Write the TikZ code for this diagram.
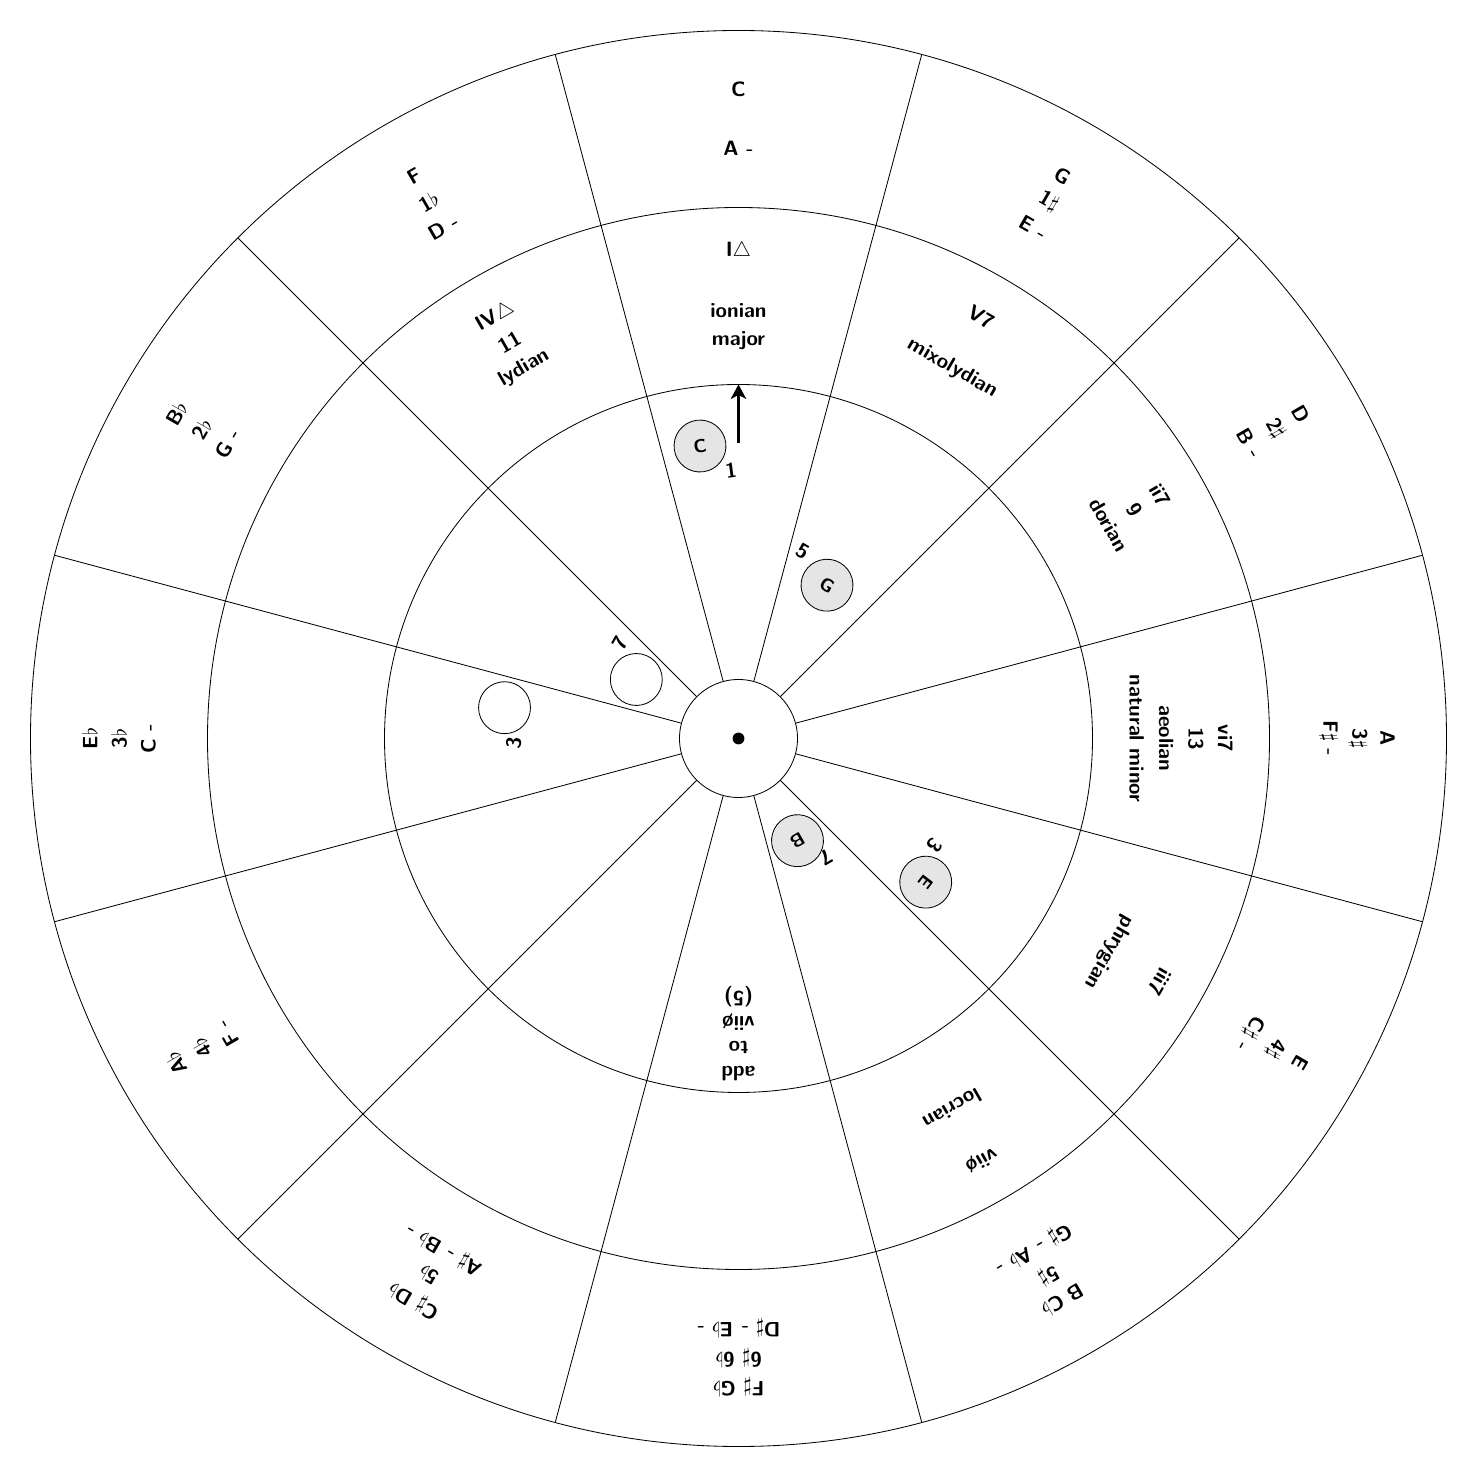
\documentclass[tikz,border=0pt]{standalone}
\usetikzlibrary{arrows.meta}
\begin{document}
\begin{tikzpicture}[
  ringc/.style={circle, draw, thin, inner sep=0pt, outer sep=0pt},
  lbl/.style={font=\sffamily\bfseries, inner sep=1pt},
  tonenote/.style={circle, draw, fill=black!10, minimum size=0.88cm, inner sep=0pt, font=\sffamily\bfseries\small},
  opennote/.style={circle, draw, minimum size=0.88cm, inner sep=0pt},
  ivl/.style={font=\sffamily\bfseries, inner sep=0pt},
  bigarrow/.style={-{Stealth[length=7pt,width=7.5pt,inset=2pt]}, line width=1.8pt}
]
\useasboundingbox (-12.517,-12.517) rectangle (12.517,12.517);
% rings
\node[ringc, minimum size=24cm] (outer) at (0,0) {};
\node[ringc, minimum size=18cm] (middle) at (0,0) {};
\node[ringc, minimum size=12cm] (inner) at (0,0) {};
\node[ringc, minimum size=2cm] (hub) at (0,0) {};
\node[circle, fill=black, minimum size=0.2cm, inner sep=0pt] (dot) at (0,0) {};
% radial lines
\foreach \a in {15,45,...,345}
  \draw[thin] (hub.\a) -- (outer.\a);
% ring texts: angle / radius / text
\foreach \a/\r/\t [count=\i] in {
  90/11/{C}, 90/10/{A -},
  60/11/{G}, 60/10.5/{1$\sharp$}, 60/10/{E -},
  30/11/{D}, 30/10.5/{2$\sharp$}, 30/10/{B -},
  0/11/{A}, 0/10.5/{3$\sharp$}, 0/10/{F$\sharp$ -},
  -30/11/{E}, -30/10.5/{4$\sharp$}, -30/10/{C$\sharp$ -},
  -60/11/{B C$\flat$}, -60/10.5/{5$\sharp$}, -60/10/{G$\sharp$ - A$\flat$ -},
  -90/11/{F$\sharp$ G$\flat$}, -90/10.5/{6$\sharp$ 6$\flat$}, -90/10/{D$\sharp$ - E$\flat$ -},
  -120/11/{C$\sharp$ D$\flat$}, -120/10.5/{5$\flat$}, -120/10/{A$\sharp$ - B$\flat$ -},
  -150/11/{A$\flat$}, -150/10.5/{4$\flat$}, -150/10/{F -},
  180/11/{E$\flat$}, 180/10.5/{3$\flat$}, 180/10/{C -},
  150/11/{B$\flat$}, 150/10.5/{2$\flat$}, 150/10/{G -},
  120/11/{F}, 120/10.5/{1$\flat$}, 120/10/{D -},
  90/8.25/{I$\triangle$}, 90/7.25/{ionian}, 90/6.75/{major},
  120/8.25/{IV$\triangle$}, 120/7.75/{11}, 120/7.25/{lydian},
  60/8.25/{V7}, 60/7.25/{mixolydian},
  30/8.25/{ii7}, 30/7.75/{9}, 30/7.25/{dorian},
  0/8.25/{vi7}, 0/7.75/{13}, 0/7.25/{aeolian}, 0/6.75/{natural minor},
  -30/8.25/{iii7}, -30/7.25/{phrygian},
  -60/8.25/{vii\o}, -60/7.25/{locrian}}{
  \node[lbl, rotate=\a-90] (t\i) at (\a:\r) {\t};
}
% inner text
\node[lbl, align=center, rotate=180] (addto) at (-90:5) {add\\to\\vii\o\\(5)};
% arrow
\coordinate (tail) at (90:5);
\draw[bigarrow] (tail) -- (inner.north);
% notes
\node[tonenote, rotate=7.5] (nC) at (97.5:5) {C};
\node[ivl, rotate=7.5] (iC) at (-0.127,4.54) {1};
\node[tonenote, rotate=-30] (nG) at (60:3) {G};
\node[ivl, rotate=-30] (iG) at (1.093,3.169) {5};
\node[tonenote, rotate=-150] (nB) at (-60:2) {B};
\node[ivl, rotate=-150] (iB) at (1.492,-2.017) {7};
\node[tonenote, rotate=-127.5] (nE) at (-37.5:4) {E};
\node[ivl, rotate=-127.5] (iE) at (3.322,-1.814) {3};
\node[opennote] (nBb) at (150:2) {};
\node[ivl, rotate=60] (iBb) at (-2.0,1.61) {7};
\node[opennote] (nEb) at (172.5:4) {};
\node[ivl, rotate=82.5] (iEb) at (-3.8,-0.076) {3};
\end{tikzpicture}
\end{document}
